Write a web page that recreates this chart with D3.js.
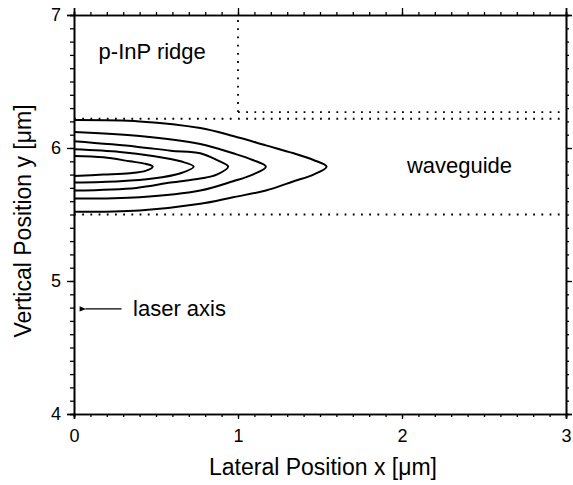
<!DOCTYPE html>
<html><head><meta charset="utf-8">
<script src="https://cdn.jsdelivr.net/npm/d3@7/dist/d3.min.js"></script>
<style>
body{margin:0;background:#fff;}
text{font-family:"Liberation Sans",Arial,Helvetica,sans-serif;fill:#000;}
</style></head><body>
<svg id="chart" width="573" height="485"></svg>
<script>
// ---- data ----
const xTicks = [0, 1, 2, 3];
const yTicks = [4, 5, 6, 7];
const xDomain = [0, 3];
const yDomain = [4, 7];
// contour lines of the optical mode, [x, y] in µm
const contour1 = [[0,6.21],[0.40,6.20],[0.77,6.15],[0.97,6.09],[1.17,6.02],[1.34,5.96],[1.46,5.91],[1.54,5.86],[1.46,5.80],[1.34,5.75],[1.17,5.68],[0.97,5.63],[0.77,5.58],[0.40,5.53],[0,5.52]];
const contour2 = [[0,6.12],[0.40,6.09],[0.77,6.03],[0.97,5.96],[1.09,5.91],[1.17,5.86],[1.09,5.80],[0.97,5.75],[0.77,5.68],[0.40,5.63],[0,5.62]];
const contour3 = [[0,6.05],[0.38,6.01],[0.59,5.98],[0.77,5.96],[0.87,5.91],[0.94,5.86],[0.87,5.80],[0.77,5.77],[0.59,5.74],[0.38,5.70],[0,5.68]];
const contour4 = [[0,5.99],[0.28,5.97],[0.48,5.94],[0.65,5.90],[0.73,5.86],[0.65,5.81],[0.48,5.77],[0.28,5.75],[0,5.74]];
const contour5 = [[0,5.94],[0.18,5.93],[0.34,5.90],[0.44,5.88],[0.48,5.86],[0.44,5.83],[0.34,5.81],[0.18,5.80],[0,5.79]];
const contours = [contour1, contour2, contour3, contour4, contour5];
// dotted boundary lines [[x1,y1],[x2,y2]]
const boundaries = [
  [[0,5.5],[3,5.5]],
  [[0,6.22],[3,6.22]],
  [[1,6.27],[3,6.27]],
  [[1,6.27],[1,7]]
];
const labels = [
  {text:"p-InP ridge", x:0.15, y:6.67},
  {text:"waveguide", x:2.03, y:5.81},
  {text:"laser axis", x:0.36, y:4.737}
];
const arrowFrom = [0.29, 4.79], arrowTo = [0.07, 4.79];

// ---- drawing ----
const svg = d3.select("#chart");
const x = d3.scaleLinear().domain(xDomain).range([74, 566]);
const y = d3.scaleLinear().domain(yDomain).range([414, 15]);

const minorX = d3.range(0, 3.0001, 0.1).map(v => +v.toFixed(2));
const minorY = d3.range(4, 7.0001, 0.1).map(v => +v.toFixed(2));

function styleAxis(g){
  g.select(".domain").attr("stroke","#000").attr("stroke-width",1.6);
  g.selectAll(".tick line").attr("stroke","#000").attr("stroke-width",1.3);
  g.selectAll("text").style("font-size","18px").attr("fill","#000");
}

// minor ticks
svg.append("g").attr("transform",`translate(0,414)`)
  .call(d3.axisBottom(x).tickValues(minorX).tickSize(3).tickFormat("")).call(styleAxis);
svg.append("g").attr("transform",`translate(0,15)`)
  .call(d3.axisTop(x).tickValues(minorX).tickSize(3).tickFormat("")).call(styleAxis);
svg.append("g").attr("transform",`translate(74,0)`)
  .call(d3.axisLeft(y).tickValues(minorY).tickSize(4).tickFormat("")).call(styleAxis);
svg.append("g").attr("transform",`translate(566,0)`)
  .call(d3.axisRight(y).tickValues(minorY).tickSize(3).tickFormat("")).call(styleAxis);

// major ticks with labels
const gx = svg.append("g").attr("transform",`translate(0,414)`)
  .call(d3.axisBottom(x).tickValues(xTicks).tickSize(5).tickPadding(10).tickFormat(d3.format("d"))).call(styleAxis);
const gy = svg.append("g").attr("transform",`translate(74,0)`)
  .call(d3.axisLeft(y).tickValues(yTicks).tickSize(7).tickPadding(6).tickFormat(d3.format("d"))).call(styleAxis);
svg.append("g").attr("transform",`translate(0,15)`)
  .call(d3.axisTop(x).tickValues(xTicks).tickSize(7).tickFormat("")).call(styleAxis);
svg.append("g").attr("transform",`translate(566,0)`)
  .call(d3.axisRight(y).tickValues(yTicks).tickSize(6).tickFormat("")).call(styleAxis);

// dotted boundaries
svg.append("g").selectAll("line").data(boundaries).join("line")
  .attr("x1",d=>x(d[0][0])).attr("y1",d=>y(d[0][1]))
  .attr("x2",d=>x(d[1][0])).attr("y2",d=>y(d[1][1]))
  .attr("stroke","#000").attr("stroke-width",1.8)
  .attr("stroke-dasharray","1.8,6.4");

// contours
const line = d3.line().x(d=>x(d[0])).y(d=>y(d[1])).curve(d3.curveCatmullRom.alpha(0.5));
svg.append("g").selectAll("path").data(contours).join("path")
  .attr("d", line).attr("fill","none").attr("stroke","#000").attr("stroke-width",2);

// labels
svg.append("g").selectAll("text").data(labels).join("text")
  .attr("x",d=>x(d.x)).attr("y",d=>y(d.y))
  .style("font-size","22px").text(d=>d.text);

// arrow
svg.append("defs").append("marker").attr("id","ah")
  .attr("viewBox","0 0 10 10").attr("refX",1).attr("refY",5)
  .attr("markerWidth",6).attr("markerHeight",5).attr("orient","auto")
  .append("path").attr("d","M10,1 L0,5 L10,9 Z").attr("fill","#000");
svg.append("line")
  .attr("x1",x(arrowFrom[0])).attr("y1",y(arrowFrom[1]))
  .attr("x2",x(arrowTo[0])).attr("y2",y(arrowTo[1]))
  .attr("stroke","#000").attr("stroke-width",1.3).attr("marker-end","url(#ah)");

// axis titles
svg.append("text").attr("x",323).attr("y",475).attr("text-anchor","middle")
  .style("font-size","23px").text("Lateral Position x [\u03bcm]");
svg.append("text").attr("transform","translate(31,221) rotate(-90)").attr("text-anchor","middle")
  .style("font-size","23px").text("Vertical Position y [\u03bcm]");
</script>
</body></html>
